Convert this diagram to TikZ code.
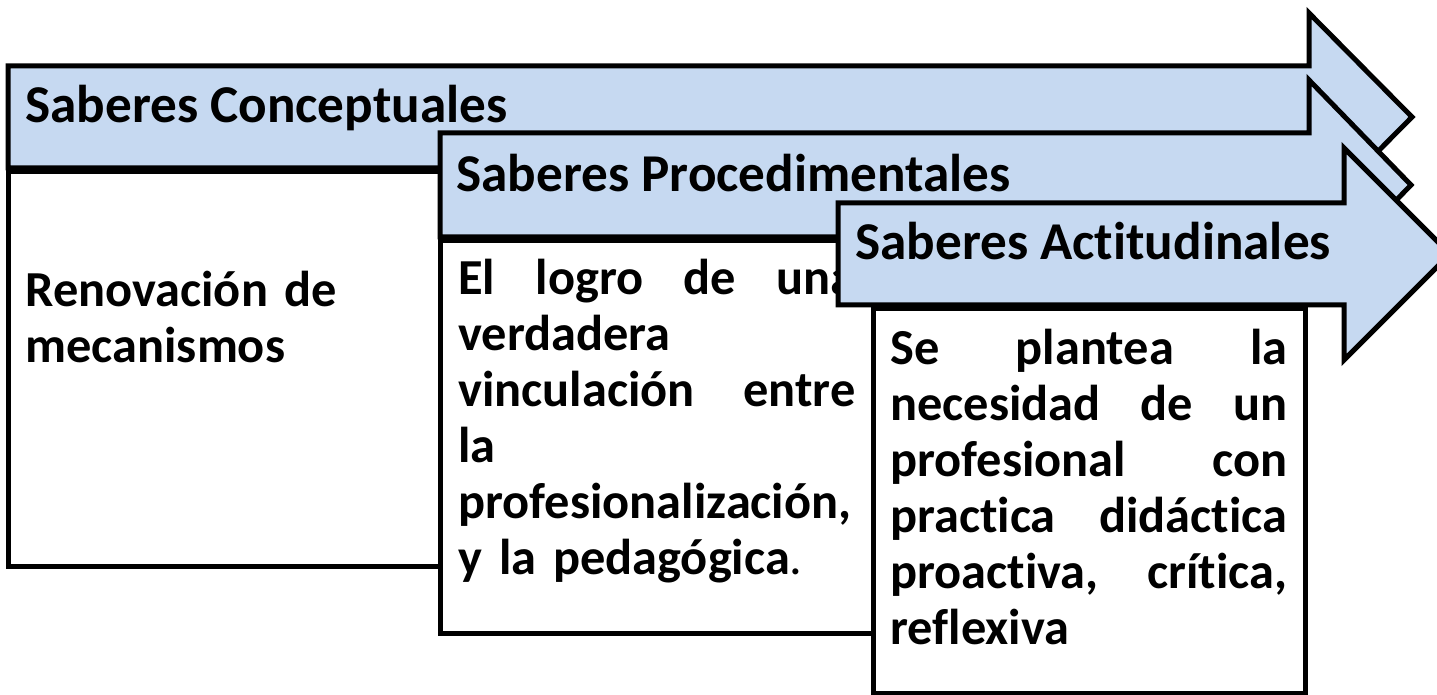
\documentclass[tikz,border=0pt]{standalone}
\usepackage{fontspec}
\setmainfont{Carlito}[Ligatures=NoCommon]
\definecolor{saberblue}{HTML}{C6D9F1}
\newcommand{\jl}[1]{\makebox[\hsize][s]{#1}}

\begin{document}
\begin{tikzpicture}[x=0.5pt,y=-0.5pt,
  flecha/.style={fill=saberblue,draw=black,line width=2.5pt,line join=miter},
  caja/.style={fill=white,draw=black,line width=2.5pt},
  titulo/.style={anchor=base west,inner sep=0pt,font=\bfseries\fontsize{26.6}{30}\selectfont},
  texto/.style={anchor=base west,inner sep=0pt,text width=198.5pt,font=\bfseries\fontsize{25.2}{28}\selectfont}]
\useasboundingbox (0,0) rectangle (1437,695);
% conceptuales
\draw[flecha] (8,66) -- (1309,66) -- (1309,13) -- (1412,117) -- (1309,221) -- (1309,168) -- (8,168) -- cycle;
\draw[caja] (8,172) rectangle (600,567);
\node[titulo] (conceptuales) at (25,123) {Saberes Conceptuales};
\node[texto] (renovacion) at (25,307) {Renovación de\\ mecanismos};
% procedimentales
\draw[flecha] (440,133) -- (1309,133) -- (1309,80) -- (1411,185) -- (1309,290) -- (1309,237) -- (440,237) -- cycle;
\draw[caja] (440,241) rectangle (1000,633);
\node[titulo] (procedimentales) at (456,192) {Saberes Procedimentales};
\node[texto] (logro) at (458,295) {\jl{El\hfill logro\hfill de\hfill una}\\ verdadera\\ \jl{vinculación\hfill entre}\\ la\\ profesionalización,\\ y la pedagógica{\mdseries .}};
% actitudinales
\draw[flecha] (838,203) -- (1344,203) -- (1344,148) -- (1450,254) -- (1344,360) -- (1344,305) -- (838,305) -- cycle;
\draw[caja] (873,309) rectangle (1305,693);
\node[titulo] (actitudinales) at (855,260) {Saberes Actitudinales};
\node[texto] (plantea) at (890,365) {\jl{Se\hfill plantea\hfill la}\\ \jl{necesidad\hfill de\hfill un}\\ \jl{profesional\hfill con}\\ \jl{practica\hfill didáctica}\\ \jl{proactiva,\hfill crítica,}\\ reflexiva};
\end{tikzpicture}
\end{document}
